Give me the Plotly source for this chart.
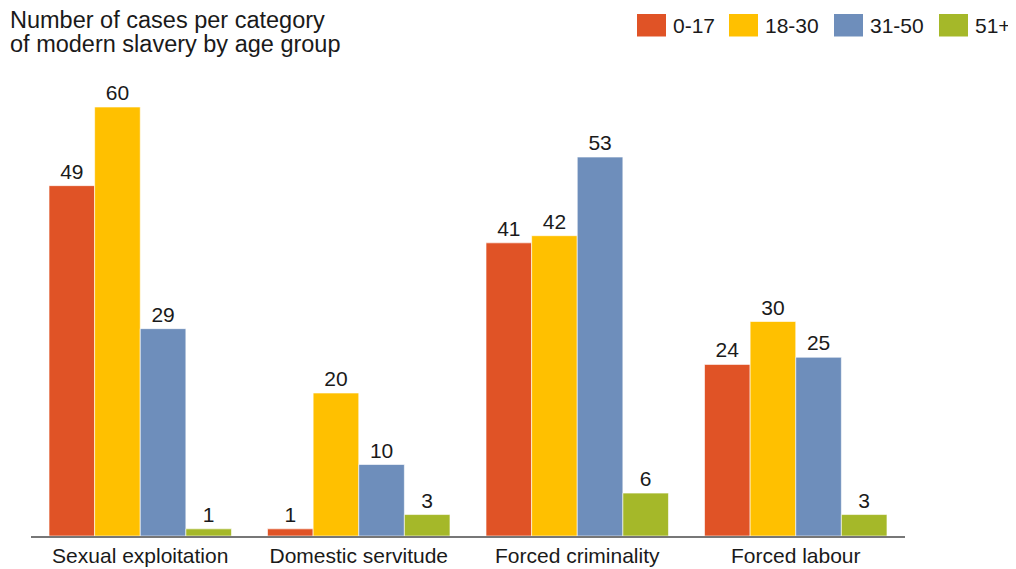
import plotly.graph_objects as go

categories = ["Sexual exploitation", "Domestic servitude", "Forced criminality", "Forced labour"]
age_groups = ["0-17", "18-30", "31-50", "51+"]
values_0_17 = [49, 1, 41, 24]
values_18_30 = [60, 20, 42, 30]
values_31_50 = [29, 10, 53, 25]
values_51_plus = [1, 3, 6, 3]
series_values = [values_0_17, values_18_30, values_31_50, values_51_plus]
colors = ["#E05326", "#FFC000", "#6E8EBB", "#A5B829"]
title_lines = ["Number of cases per category", "of modern slavery by age group"]

FONT = "Liberation Sans, Arial, sans-serif"
OFF = 8  # page body margin
W, H = 1016 - OFF, 569 - OFF
L, R = 31 - OFF, 1016 - 905
B = 569 - 536
T = 80 - OFF
plot_h = H - T - B
pw = W - L - R

fig = go.Figure()
for name, vals, col in zip(age_groups, series_values, colors):
    fig.add_trace(go.Bar(
        x=categories, y=vals, name=name,
        marker=dict(color=col, line=dict(color="rgba(255,255,255,0.6)", width=1)),
        text=[str(v) for v in vals], textposition="outside",
        textfont=dict(family=FONT, size=21, color="#1a1a1a"),
        cliponaxis=False, showlegend=False,
    ))

ymax = plot_h / 7.15

fig.update_layout(
    width=W, height=H, autosize=False,
    margin=dict(l=L, r=R, t=T, b=B, autoexpand=False),
    barmode="group", bargap=0.165, bargroupgap=0,
    plot_bgcolor="white", paper_bgcolor="white",
    font=dict(family=FONT, size=21, color="#1a1a1a"),
    xaxis=dict(showline=True, linecolor="#777777", linewidth=2, ticks="",
               tickfont=dict(family=FONT, size=21, color="#1a1a1a"),
               showgrid=False, zeroline=False, automargin=False, ticklabelstandoff=0),
    yaxis=dict(range=[0, ymax], visible=False, showgrid=False, zeroline=False,
               automargin=False),
)

def px2x(px):
    return (px - OFF - L) / pw

def py2y(py):
    return (H - B - (py - OFF)) / plot_h

# title (two lines)
for i, line in enumerate(title_lines):
    fig.add_annotation(xref="paper", yref="paper", x=px2x(8), xanchor="left",
                       y=py2y(20 + 24 * i), yanchor="middle",
                       text=line, showarrow=False, align="left",
                       font=dict(family=FONT, size=23.5, color="#1a1a1a"))

# legend
leg_x = [637, 729, 834, 939]
for name, col, x0 in zip(age_groups, colors, leg_x):
    fig.add_shape(type="rect", xref="paper", yref="paper",
                  x0=px2x(x0), x1=px2x(x0 + 29), y0=py2y(36.5), y1=py2y(14),
                  fillcolor=col, line=dict(width=0))
    fig.add_annotation(xref="paper", yref="paper", x=px2x(x0 + 34), xanchor="left",
                       y=py2y(25.5), yanchor="middle", text=name, showarrow=False,
                       font=dict(family=FONT, size=21, color="#1a1a1a"))

fig.write_html("out.html")
